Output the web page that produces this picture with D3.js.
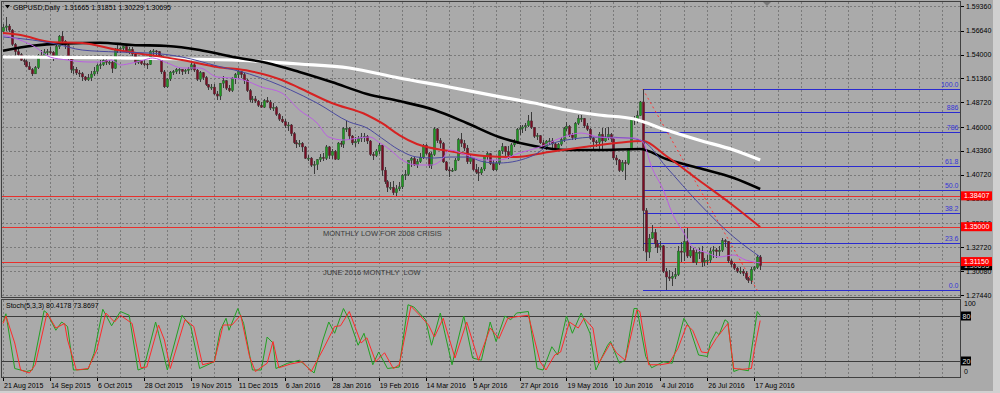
<!DOCTYPE html>
<html>
<head>
    <meta charset="utf-8">
    <title>GBPUSD Daily</title>
    <script src="https://d3js.org/d3.v7.min.js"></script>
    <style>
        body {
            margin: 0;
            background-color: #aaaaaa;
        }
        svg {
            display: block;
            font-family: "Liberation Sans", Arial, sans-serif;
        }
        .pre {
            white-space: pre;
        }
    </style>
</head>
<body>
    <svg id="chart" width="1000" height="393"></svg>
    <script>
        // daily candles: date, open, high, low, close
        const candles = [
            ["2015-08-21",1.5655,1.5737,1.5640,1.5700],
            ["2015-08-24",1.5700,1.5819,1.5655,1.5715],["2015-08-25",1.5715,1.5740,1.5650,1.5670],["2015-08-26",1.5670,1.5680,1.5490,1.5512],["2015-08-27",1.5512,1.5530,1.5385,1.5432],["2015-08-28",1.5432,1.5460,1.5370,1.5398],
            ["2015-08-31",1.5398,1.5420,1.5330,1.5336],["2015-09-01",1.5336,1.5375,1.5283,1.5323],["2015-09-02",1.5323,1.5335,1.5260,1.5266],["2015-09-03",1.5266,1.5314,1.5230,1.5234],["2015-09-04",1.5234,1.5250,1.5165,1.5187],
            ["2015-09-07",1.5187,1.5270,1.5180,1.5255],["2015-09-08",1.5255,1.5410,1.5240,1.5393],["2015-09-09",1.5393,1.5450,1.5360,1.5378],["2015-09-10",1.5378,1.5460,1.5360,1.5429],["2015-09-11",1.5429,1.5460,1.5400,1.5431],
            ["2015-09-14",1.5431,1.5480,1.5410,1.5425],["2015-09-15",1.5425,1.5440,1.5330,1.5367],["2015-09-16",1.5367,1.5510,1.5355,1.5488],["2015-09-17",1.5488,1.5620,1.5460,1.5603],["2015-09-18",1.5603,1.5659,1.5520,1.5545],
            ["2015-09-21",1.5545,1.5560,1.5460,1.5502],["2015-09-22",1.5502,1.5515,1.5340,1.5370],["2015-09-23",1.5370,1.5380,1.5200,1.5235],["2015-09-24",1.5235,1.5275,1.5180,1.5238],["2015-09-25",1.5238,1.5265,1.5175,1.5197],
            ["2015-09-28",1.5197,1.5230,1.5150,1.5188],["2015-09-29",1.5188,1.5205,1.5110,1.5153],["2015-09-30",1.5153,1.5160,1.5107,1.5122],["2015-10-01",1.5122,1.5190,1.5110,1.5144],["2015-10-02",1.5144,1.5220,1.5110,1.5185],
            ["2015-10-05",1.5185,1.5260,1.5160,1.5214],["2015-10-06",1.5214,1.5300,1.5190,1.5280],["2015-10-07",1.5280,1.5340,1.5240,1.5288],["2015-10-08",1.5288,1.5385,1.5270,1.5337],["2015-10-09",1.5337,1.5350,1.5290,1.5315],
            ["2015-10-12",1.5315,1.5340,1.5280,1.5316],["2015-10-13",1.5316,1.5325,1.5200,1.5248],["2015-10-14",1.5248,1.5470,1.5240,1.5462],["2015-10-15",1.5462,1.5508,1.5420,1.5458],["2015-10-16",1.5458,1.5480,1.5415,1.5469],
            ["2015-10-19",1.5469,1.5500,1.5440,1.5490],["2015-10-20",1.5490,1.5500,1.5420,1.5433],["2015-10-21",1.5433,1.5480,1.5410,1.5458],["2015-10-22",1.5458,1.5480,1.5380,1.5406],["2015-10-23",1.5406,1.5420,1.5290,1.5314],
            ["2015-10-26",1.5314,1.5360,1.5300,1.5347],["2015-10-27",1.5347,1.5360,1.5280,1.5300],["2015-10-28",1.5300,1.5340,1.5270,1.5296],["2015-10-29",1.5296,1.5310,1.5240,1.5289],["2015-10-30",1.5289,1.5445,1.5280,1.5434],
            ["2015-11-02",1.5434,1.5460,1.5390,1.5440],["2015-11-03",1.5440,1.5450,1.5380,1.5433],["2015-11-04",1.5433,1.5440,1.5340,1.5374],["2015-11-05",1.5374,1.5390,1.5190,1.5209],["2015-11-06",1.5209,1.5230,1.5027,1.5044],
            ["2015-11-09",1.5044,1.5140,1.5030,1.5130],["2015-11-10",1.5130,1.5220,1.5110,1.5206],["2015-11-11",1.5206,1.5230,1.5170,1.5210],["2015-11-12",1.5210,1.5250,1.5180,1.5233],["2015-11-13",1.5233,1.5250,1.5190,1.5237],
            ["2015-11-16",1.5237,1.5240,1.5170,1.5212],["2015-11-17",1.5212,1.5240,1.5180,1.5224],["2015-11-18",1.5224,1.5260,1.5190,1.5240],["2015-11-19",1.5240,1.5335,1.5230,1.5287],["2015-11-20",1.5287,1.5310,1.5210,1.5229],
            ["2015-11-23",1.5229,1.5240,1.5110,1.5126],["2015-11-24",1.5126,1.5215,1.5100,1.5200],["2015-11-25",1.5200,1.5210,1.5120,1.5146],["2015-11-26",1.5146,1.5160,1.5050,1.5068],["2015-11-27",1.5068,1.5080,1.5010,1.5040],
            ["2015-11-30",1.5040,1.5070,1.5010,1.5041],["2015-12-01",1.5041,1.5070,1.4950,1.4965],["2015-12-02",1.4965,1.5000,1.4900,1.4942],["2015-12-03",1.4942,1.5090,1.4895,1.5083],["2015-12-04",1.5083,1.5160,1.5030,1.5111],
            ["2015-12-07",1.5111,1.5120,1.5010,1.5029],["2015-12-08",1.5029,1.5060,1.4990,1.5002],["2015-12-09",1.5002,1.5150,1.4985,1.5140],["2015-12-10",1.5140,1.5200,1.5080,1.5177],["2015-12-11",1.5177,1.5242,1.5140,1.5214],
            ["2015-12-14",1.5214,1.5220,1.5140,1.5179],["2015-12-15",1.5179,1.5200,1.5070,1.5118],["2015-12-16",1.5118,1.5130,1.4990,1.5002],["2015-12-17",1.5002,1.5020,1.4880,1.4901],["2015-12-18",1.4901,1.4940,1.4860,1.4911],
            ["2015-12-21",1.4911,1.4940,1.4865,1.4886],["2015-12-22",1.4886,1.4900,1.4820,1.4839],["2015-12-23",1.4839,1.4880,1.4805,1.4819],["2015-12-24",1.4819,1.4910,1.4810,1.4891],
            ["2015-12-28",1.4891,1.4930,1.4870,1.4877],["2015-12-29",1.4877,1.4900,1.4790,1.4810],["2015-12-30",1.4810,1.4860,1.4780,1.4816],["2015-12-31",1.4816,1.4830,1.4720,1.4739],
            ["2016-01-04",1.4739,1.4760,1.4670,1.4687],["2016-01-05",1.4687,1.4720,1.4640,1.4658],["2016-01-06",1.4658,1.4690,1.4590,1.4616],["2016-01-07",1.4616,1.4660,1.4560,1.4623],["2016-01-08",1.4623,1.4630,1.4500,1.4527],
            ["2016-01-11",1.4527,1.4550,1.4410,1.4427],["2016-01-12",1.4427,1.4460,1.4370,1.4413],["2016-01-13",1.4413,1.4460,1.4380,1.4421],["2016-01-14",1.4421,1.4440,1.4330,1.4380],["2016-01-15",1.4380,1.4390,1.4245,1.4255],
            ["2016-01-18",1.4255,1.4290,1.4220,1.4257],["2016-01-19",1.4257,1.4270,1.4160,1.4178],["2016-01-20",1.4178,1.4220,1.4080,1.4186],["2016-01-21",1.4186,1.4250,1.4130,1.4241],["2016-01-22",1.4241,1.4300,1.4210,1.4264],
            ["2016-01-25",1.4264,1.4310,1.4220,1.4254],["2016-01-26",1.4254,1.4400,1.4240,1.4381],["2016-01-27",1.4381,1.4390,1.4250,1.4286],["2016-01-28",1.4286,1.4360,1.4250,1.4332],["2016-01-29",1.4332,1.4350,1.4240,1.4245],
            ["2016-02-01",1.4245,1.4440,1.4235,1.4423],["2016-02-02",1.4423,1.4450,1.4380,1.4411],["2016-02-03",1.4411,1.4600,1.4370,1.4584],["2016-02-04",1.4584,1.4668,1.4540,1.4585],["2016-02-05",1.4585,1.4600,1.4460,1.4501],
            ["2016-02-08",1.4501,1.4510,1.4400,1.4425],["2016-02-09",1.4425,1.4490,1.4380,1.4438],["2016-02-10",1.4438,1.4500,1.4410,1.4476],["2016-02-11",1.4476,1.4530,1.4440,1.4490],["2016-02-12",1.4490,1.4530,1.4430,1.4496],
            ["2016-02-15",1.4496,1.4510,1.4410,1.4446],["2016-02-16",1.4446,1.4460,1.4280,1.4297],["2016-02-17",1.4297,1.4330,1.4240,1.4284],["2016-02-18",1.4284,1.4360,1.4270,1.4336],["2016-02-19",1.4336,1.4430,1.4300,1.4400],
            ["2016-02-22",1.4400,1.4410,1.4060,1.4124],["2016-02-23",1.4124,1.4160,1.3970,1.3997],["2016-02-24",1.3997,1.4010,1.3880,1.3935],["2016-02-25",1.3935,1.3990,1.3900,1.3935],["2016-02-26",1.3935,1.4000,1.3850,1.3875],
            ["2016-02-29",1.3875,1.3960,1.3836,1.3918],["2016-03-01",1.3918,1.3990,1.3890,1.3940],["2016-03-02",1.3940,1.4080,1.3920,1.4068],["2016-03-03",1.4068,1.4130,1.4010,1.4077],["2016-03-04",1.4077,1.4240,1.4060,1.4233],
            ["2016-03-07",1.4233,1.4270,1.4160,1.4252],["2016-03-08",1.4252,1.4270,1.4170,1.4182],["2016-03-09",1.4182,1.4250,1.4150,1.4217],["2016-03-10",1.4217,1.4310,1.4200,1.4264],["2016-03-11",1.4264,1.4410,1.4250,1.4397],
            ["2016-03-14",1.4397,1.4410,1.4290,1.4307],["2016-03-15",1.4307,1.4320,1.4150,1.4176],["2016-03-16",1.4176,1.4320,1.4140,1.4296],["2016-03-17",1.4296,1.4600,1.4280,1.4580],["2016-03-18",1.4580,1.4590,1.4420,1.4450],
            ["2016-03-21",1.4450,1.4480,1.4370,1.4420],["2016-03-22",1.4420,1.4440,1.4200,1.4215],["2016-03-23",1.4215,1.4230,1.4110,1.4127],["2016-03-24",1.4127,1.4160,1.4051,1.4120],["2016-03-25",1.4120,1.4150,1.4100,1.4124],
            ["2016-03-28",1.4124,1.4260,1.4110,1.4235],["2016-03-29",1.4235,1.4480,1.4220,1.4460],["2016-03-30",1.4460,1.4530,1.4380,1.4420],["2016-03-31",1.4420,1.4460,1.4340,1.4368],["2016-04-01",1.4368,1.4400,1.4190,1.4217],
            ["2016-04-04",1.4217,1.4290,1.4190,1.4260],["2016-04-05",1.4260,1.4270,1.4110,1.4129],["2016-04-06",1.4129,1.4190,1.4080,1.4102],["2016-04-07",1.4102,1.4160,1.4005,1.4093],["2016-04-08",1.4093,1.4160,1.4070,1.4137],
            ["2016-04-11",1.4137,1.4290,1.4120,1.4277],["2016-04-12",1.4277,1.4320,1.4240,1.4305],["2016-04-13",1.4305,1.4310,1.4180,1.4195],["2016-04-14",1.4195,1.4240,1.4110,1.4128],["2016-04-15",1.4128,1.4230,1.4120,1.4203],
            ["2016-04-18",1.4203,1.4350,1.4180,1.4337],["2016-04-19",1.4337,1.4420,1.4300,1.4383],["2016-04-20",1.4383,1.4390,1.4270,1.4328],["2016-04-21",1.4328,1.4390,1.4250,1.4288],["2016-04-22",1.4288,1.4420,1.4270,1.4403],
            ["2016-04-25",1.4403,1.4470,1.4380,1.4424],["2016-04-26",1.4424,1.4590,1.4410,1.4573],["2016-04-27",1.4573,1.4620,1.4510,1.4585],["2016-04-28",1.4585,1.4620,1.4530,1.4601],["2016-04-29",1.4601,1.4640,1.4560,1.4614],
            ["2016-05-02",1.4614,1.4730,1.4600,1.4668],["2016-05-03",1.4668,1.4770,1.4580,1.4596],["2016-05-04",1.4596,1.4600,1.4480,1.4497],["2016-05-05",1.4497,1.4530,1.4460,1.4505],["2016-05-06",1.4505,1.4510,1.4410,1.4426],
            ["2016-05-09",1.4426,1.4460,1.4360,1.4374],["2016-05-10",1.4374,1.4460,1.4350,1.4445],["2016-05-11",1.4445,1.4480,1.4400,1.4447],["2016-05-12",1.4447,1.4480,1.4370,1.4414],["2016-05-13",1.4414,1.4440,1.4330,1.4366],
            ["2016-05-16",1.4366,1.4420,1.4340,1.4410],["2016-05-17",1.4410,1.4490,1.4390,1.4461],["2016-05-18",1.4461,1.4600,1.4430,1.4582],["2016-05-19",1.4582,1.4660,1.4560,1.4608],["2016-05-20",1.4608,1.4620,1.4490,1.4512],
            ["2016-05-23",1.4512,1.4530,1.4460,1.4482],["2016-05-24",1.4482,1.4660,1.4460,1.4640],["2016-05-25",1.4640,1.4733,1.4620,1.4696],["2016-05-26",1.4696,1.4730,1.4660,1.4696],["2016-05-27",1.4696,1.4700,1.4590,1.4613],
            ["2016-05-30",1.4613,1.4640,1.4560,1.4575],["2016-05-31",1.4575,1.4590,1.4460,1.4477],["2016-06-01",1.4477,1.4490,1.4350,1.4437],["2016-06-02",1.4437,1.4460,1.4380,1.4432],["2016-06-03",1.4432,1.4540,1.4350,1.4520],
            ["2016-06-06",1.4520,1.4590,1.4360,1.4446],["2016-06-07",1.4446,1.4590,1.4430,1.4489],["2016-06-08",1.4489,1.4600,1.4460,1.4517],["2016-06-09",1.4517,1.4530,1.4440,1.4469],["2016-06-10",1.4469,1.4480,1.4240,1.4259],
            ["2016-06-13",1.4259,1.4290,1.4180,1.4236],["2016-06-14",1.4236,1.4250,1.4100,1.4120],["2016-06-15",1.4120,1.4240,1.4100,1.4208],["2016-06-16",1.4208,1.4240,1.4013,1.4197],["2016-06-17",1.4197,1.4370,1.4180,1.4360],
            ["2016-06-20",1.4360,1.4710,1.4350,1.4685],["2016-06-21",1.4685,1.4720,1.4620,1.4686],["2016-06-22",1.4686,1.4780,1.4640,1.4726],["2016-06-23",1.4726,1.4890,1.4720,1.4877],["2016-06-24",1.4877,1.5018,1.3229,1.3677],
            ["2016-06-27",1.3677,1.3705,1.3122,1.3220],["2016-06-28",1.3220,1.3420,1.3160,1.3372],["2016-06-29",1.3372,1.3522,1.3360,1.3436],["2016-06-30",1.3436,1.3480,1.3260,1.3311],["2016-07-01",1.3311,1.3350,1.3210,1.3274],
            ["2016-07-04",1.3274,1.3340,1.3240,1.3289],["2016-07-05",1.3289,1.3300,1.2990,1.3005],["2016-07-06",1.3005,1.3040,1.2798,1.2945],["2016-07-07",1.2945,1.3020,1.2900,1.2931],["2016-07-08",1.2931,1.3000,1.2850,1.2951],
            ["2016-07-11",1.2951,1.3040,1.2920,1.2971],["2016-07-12",1.2971,1.3290,1.2960,1.3231],["2016-07-13",1.3231,1.3330,1.3110,1.3218],["2016-07-14",1.3218,1.3475,1.3120,1.3335],["2016-07-15",1.3335,1.3481,1.3160,1.3176],
            ["2016-07-18",1.3176,1.3290,1.3150,1.3239],["2016-07-19",1.3239,1.3260,1.3100,1.3105],["2016-07-20",1.3105,1.3250,1.3080,1.3214],["2016-07-21",1.3214,1.3260,1.3140,1.3217],["2016-07-22",1.3217,1.3290,1.3060,1.3111],
            ["2016-07-25",1.3111,1.3150,1.3070,1.3130],["2016-07-26",1.3130,1.3190,1.3080,1.3131],["2016-07-27",1.3131,1.3260,1.3100,1.3231],["2016-07-28",1.3231,1.3290,1.3160,1.3244],["2016-07-29",1.3244,1.3270,1.3160,1.3225],
            ["2016-08-01",1.3225,1.3290,1.3180,1.3240],["2016-08-02",1.3240,1.3372,1.3220,1.3345],["2016-08-03",1.3345,1.3360,1.3280,1.3335],["2016-08-04",1.3335,1.3340,1.3100,1.3123],["2016-08-05",1.3123,1.3140,1.3050,1.3086],
            ["2016-08-08",1.3086,1.3100,1.3020,1.3042],["2016-08-09",1.3042,1.3060,1.2990,1.3008],["2016-08-10",1.3008,1.3050,1.2980,1.3009],["2016-08-11",1.3009,1.3030,1.2960,1.2986],["2016-08-12",1.2986,1.3010,1.2910,1.2931],
            ["2016-08-15",1.2931,1.2940,1.2880,1.2906],["2016-08-16",1.2906,1.3050,1.2865,1.3028],["2016-08-17",1.3028,1.3070,1.3010,1.3048],["2016-08-18",1.3048,1.3185,1.3030,1.3165],["2016-08-19",1.31665,1.31851,1.30229,1.30695]
        ];

        const priceTicks = [1.59360, 1.56640, 1.54000, 1.51360, 1.48720, 1.46000, 1.43360, 1.40720, 1.38080, 1.35360, 1.32720, 1.30080, 1.27440];
        const dateTicks = ["2015-08-21", "2015-09-14", "2015-10-06", "2015-10-28", "2015-11-19", "2015-12-11", "2016-01-06", "2016-01-28",
            "2016-02-19", "2016-03-14", "2016-04-05", "2016-04-27", "2016-05-19", "2016-06-10", "2016-07-04", "2016-07-26", "2016-08-17"];

        // moving averages: [bar index, price]
        const maWhite = [[0,1.5373],[33,1.5367],[63,1.5351],[78,1.5340],[101,1.5296],[118,1.5252],[135,1.5141],[152,1.5042],[169,1.4936],[181,1.4865],[192,1.4788],[203,1.4733],[215,1.4689],[226,1.4567],[237,1.4457],[249,1.4347],[258,1.4236]];
        const maBlack = [[0,1.5443],[10,1.5498],[22,1.5524],[33,1.5531],[44,1.5506],[56,1.5495],[67,1.5450],[78,1.5376],[90,1.5307],[101,1.5208],[112,1.5097],[124,1.4965],[135,1.4887],[147,1.4788],[158,1.4645],[169,1.4490],[181,1.4391],[192,1.4347],[203,1.4347],[217,1.4358],[226,1.4247],[237,1.4148],[249,1.4038],[258,1.3916]];
        const maRed = [[0,1.5638],[6,1.5616],[16,1.5539],[27,1.5528],[39,1.5450],[50,1.5395],[61,1.5340],[73,1.5263],[84,1.5219],[95,1.5119],[101,1.5031],[112,1.4865],[124,1.4733],[129,1.4645],[135,1.4512],[141,1.4413],[152,1.4336],[164,1.4281],[175,1.4269],[186,1.4325],[198,1.4380],[209,1.4424],[218,1.4446],[226,1.4280],[237,1.4016],[249,1.3729],[258,1.3497]];
        const maBlue = [[0,1.5594],[10,1.5561],[18,1.5517],[27,1.5450],[39,1.5428],[50,1.5417],[61,1.5373],[73,1.5274],[84,1.5185],[98,1.5009],[107,1.4865],[118,1.4656],[124,1.4590],[129,1.4479],[135,1.4347],[141,1.4269],[147,1.4258],[152,1.4269],[158,1.4269],[164,1.4214],[169,1.4203],[181,1.4291],[186,1.4402],[192,1.4457],[203,1.4490],[213,1.4479],[218,1.4446],[226,1.4159],[237,1.3762],[249,1.3386],[258,1.3166]];
        const maPurple = [[0,1.5616],[11,1.5483],[16,1.5373],[22,1.5340],[29,1.5318],[33,1.5318],[37,1.5340],[40,1.5285],[44,1.5307],[48,1.5340],[51,1.5362],[56,1.5307],[61,1.5252],[67,1.5252],[73,1.5152],[78,1.5141],[82,1.5119],[88,1.5042],[95,1.4976],[101,1.4788],[107,1.4645],[111,1.4490],[116,1.4457],[121,1.4479],[125,1.4490],[128,1.4435],[132,1.4347],[136,1.4236],[141,1.4181],[146,1.4181],[150,1.4258],[152,1.4347],[158,1.4291],[164,1.4236],[169,1.4236],[176,1.4314],[183,1.4380],[190,1.4479],[197,1.4534],[203,1.4490],[209,1.4479],[215,1.4479],[218,1.4435],[221,1.4159],[225,1.3905],[228,1.3651],[232,1.3431],[235,1.3276],[240,1.3210],[244,1.3166],[249,1.3188],[253,1.3133],[258,1.3100]];

        // Stoch(5,3,3) main and signal: [bar index, value]
        const stochK = [[0,72],[1,83],[4,10],[8,6],[10,8],[14,87],[15,84],[18,61],[20,72],[22,66],[24,8],[29,9],[31,30],[34,89],[37,67],[40,86],[43,81],[46,8],[48,11],[52,72],[53,57],[56,8],[61,81],[64,66],[67,10],[72,19],[74,61],[76,77],[77,61],[80,90],[82,70],[85,8],[88,8],[90,52],[92,44],[93,10],[97,17],[101,21],[106,4],[109,48],[111,72],[113,57],[116,90],[118,75],[121,41],[123,57],[126,15],[128,32],[131,10],[135,12],[138,95],[140,92],[144,75],[146,41],[149,84],[153,15],[157,80],[160,24],[163,21],[166,72],[168,46],[171,80],[173,75],[175,84],[179,86],[182,10],[184,8],[187,39],[189,28],[192,80],[194,57],[197,84],[200,57],[202,8],[206,41],[207,46],[210,17],[212,21],[215,90],[216,90],[219,26],[221,11],[225,19],[228,17],[232,77],[234,64],[237,28],[240,26],[241,44],[243,59],[244,55],[246,75],[247,72],[249,6],[251,9],[254,7],[257,86],[258,80.4]];
        const stochD = [[0,70],[1,80],[4,44],[6,8],[9,4],[11,15],[15,84],[18,64],[21,70],[22,48],[25,8],[29,10],[32,35],[35,84],[38,72],[40,81],[44,70],[47,11],[49,12],[53,68],[55,48],[57,10],[62,75],[65,66],[68,15],[72,19],[75,68],[78,68],[81,81],[84,26],[86,6],[90,17],[92,46],[94,11],[98,16],[102,19],[105,6],[109,35],[113,66],[115,67],[118,86],[122,44],[124,51],[127,19],[130,31],[133,10],[135,15],[139,93],[142,81],[145,68],[147,52],[150,77],[154,24],[158,72],[162,21],[166,64],[169,50],[172,77],[175,79],[179,81],[183,19],[185,8],[188,28],[190,32],[193,72],[196,64],[198,77],[201,64],[203,17],[207,44],[209,31],[212,21],[216,88],[217,86],[220,15],[224,15],[227,17],[230,37],[233,68],[235,61],[238,32],[240,31],[243,50],[247,70],[249,10],[252,9],[255,10],[256,35],[258,73.9]];
        const stochLevels = [80, 20];

        const levels = [1.38407, 1.35000, 1.31150];
        const bidPrice = 1.30695;
        const fibPoints = [["2016-06-24", 1.5018], ["2016-08-18", 1.2798]];
        const fibRatios = [0, 0.236, 0.382, 0.5, 0.618, 0.786, 0.886, 1];
        const fibLabels = ["0.0", "23.6", "38.2", "50.0", "61.8", "786", "886", "100.0"];
        const notes = [["2016-01-25", 1.3392, "MONTHLY LOW FOR 2008 CRISIS"], ["2016-01-25", 1.2972, "JUNE 2016 MONTHLY  LOW"]];
        const header = "GBPUSD,Daily  1.31665 1.31851 1.30229 1.30695";
        const stochTitle = "Stoch(5,3,3) 80.4178 73.8697";

        const svg = d3.select("#chart");
        const mainBox = { left: 1.5, right: 960.5, top: 1.5, bottom: 297.5 };
        const subBox = { top: 299.5, bottom: 377.5 };

        const x = d3.scaleLinear().domain([0, candles.length - 1]).range([3, 760.2]);
        const y = d3.scaleLinear().domain([1.2744, 1.5936]).range([295.2, 6]);
        const ys = d3.scaleLinear().domain([0, 100]).range([376, 301]);
        const indexOf = new Map(candles.map((d, i) => [d[0], i]));
        const px = v => Math.round(v) + 0.5;
        const fmtDate = d3.timeFormat("%-d %b %Y");
        const parseDate = d3.timeParse("%Y-%m-%d");

        svg.append("rect").attr("width", 1000).attr("height", 393).attr("fill", "#aaaaaa");
        svg.append("rect").attr("x", 993).attr("width", 7).attr("height", 393).attr("fill", "#d0d0d0");
        svg.append("rect").attr("y", 391).attr("width", 1000).attr("height", 2).attr("fill", "#d0d0d0");

        svg.append("clipPath").attr("id", "mainClip")
            .append("rect")
            .attr("x", mainBox.left).attr("y", mainBox.top)
            .attr("width", mainBox.right - mainBox.left).attr("height", mainBox.bottom - mainBox.top);

        // grid
        const grid = svg.append("g")
            .attr("stroke", "#7a7a7a")
            .attr("stroke-dasharray", "2,2")
            .attr("shape-rendering", "crispEdges");
        const gridBars = d3.range(0, 400, 8).filter(i => x(i) < mainBox.right - 2);
        gridBars.forEach(i => {
            grid.append("line").attr("x1", px(x(i))).attr("x2", px(x(i)))
                .attr("y1", mainBox.top).attr("y2", mainBox.bottom);
            grid.append("line").attr("x1", px(x(i))).attr("x2", px(x(i)))
                .attr("y1", subBox.top).attr("y2", subBox.bottom);
        });
        priceTicks.forEach(t => {
            grid.append("line").attr("x1", mainBox.left).attr("x2", mainBox.right)
                .attr("y1", px(y(t))).attr("y2", px(y(t)));
        });

        // horizontal support lines
        const objects = svg.append("g").attr("shape-rendering", "crispEdges");
        objects.selectAll(".level")
            .data(levels)
            .enter()
            .append("line")
            .attr("x1", mainBox.left).attr("x2", mainBox.right)
            .attr("y1", d => px(y(d))).attr("y2", d => px(y(d)))
            .attr("stroke", "#e8302c");

        objects.append("line")
            .attr("x1", mainBox.left).attr("x2", mainBox.right)
            .attr("y1", px(y(bidPrice))).attr("y2", px(y(bidPrice)))
            .attr("stroke", "#8c8c8c");

        // fibonacci retracement
        const fibHigh = fibPoints[0][1];
        const fibLow = fibPoints[1][1];
        const fibStart = x(indexOf.get(fibPoints[0][0]));
        const fibPrice = r => fibLow + r * (fibHigh - fibLow);
        objects.selectAll(".fib")
            .data(fibRatios)
            .enter()
            .append("line")
            .attr("x1", fibStart).attr("x2", mainBox.right)
            .attr("y1", d => px(y(fibPrice(d)))).attr("y2", d => px(y(fibPrice(d))))
            .attr("stroke", "#2a2ad0");

        svg.append("line")
            .attr("x1", x(indexOf.get(fibPoints[0][0]))).attr("y1", y(fibPoints[0][1]))
            .attr("x2", x(indexOf.get(fibPoints[1][0]))).attr("y2", y(fibPoints[1][1]))
            .attr("stroke", "#ff3535")
            .attr("stroke-dasharray", "2,3");

        // candles
        const candleG = svg.append("g").attr("clip-path", "url(#mainClip)");
        const bars = candleG.selectAll(".candle")
            .data(candles)
            .enter()
            .append("g")
            .attr("class", "candle");
        bars.append("line")
            .attr("x1", (d, i) => px(x(i))).attr("x2", (d, i) => px(x(i)))
            .attr("y1", d => y(d[2])).attr("y2", d => y(d[3]))
            .attr("stroke", "#3a3a3a")
            .attr("shape-rendering", "crispEdges");
        bars.append("rect")
            .attr("x", (d, i) => px(x(i)) - 1.2)
            .attr("width", 2.4)
            .attr("y", d => y(Math.max(d[1], d[4])))
            .attr("height", d => Math.max(1, Math.abs(y(d[1]) - y(d[4]))))
            .attr("fill", d => d[4] >= d[1] ? "#1f9a22" : "#7c0c24")
            .attr("stroke", "#3a3a3a")
            .attr("stroke-width", 0.4);

        // moving averages
        const maLine = d3.line()
            .x(d => x(d[0]))
            .y(d => y(d[1]))
            .curve(d3.curveMonotoneX);
        const maG = svg.append("g").attr("clip-path", "url(#mainClip)").attr("fill", "none");
        [
            [maWhite, "#ffffff", 3.2],
            [maBlack, "#000000", 2.6],
            [maRed, "#d62222", 2],
            [maBlue, "#4a4a9e", 1],
            [maPurple, "#bb5fe2", 1]
        ].forEach(([data, color, w]) => {
            maG.append("path")
                .attr("d", maLine(data))
                .attr("stroke", color)
                .attr("stroke-width", w)
                .attr("stroke-linejoin", "round");
        });

        // text objects
        svg.selectAll(".note")
            .data(notes)
            .enter()
            .append("text")
            .attr("class", "pre")
            .attr("x", d => x(indexOf.get(d[0])))
            .attr("y", d => y(d[1]))
            .attr("font-size", 7.5)
            .attr("fill", "#3a3a3a")
            .text(d => d[2]);

        svg.selectAll(".fibLabel")
            .data(fibRatios)
            .enter()
            .append("text")
            .attr("x", mainBox.right - 2)
            .attr("y", d => y(fibPrice(d)) - 2)
            .attr("text-anchor", "end")
            .attr("font-size", 7)
            .attr("fill", "#3636d6")
            .text((d, i) => fibLabels[i]);

        // stochastic
        const stochLine = d3.line().x(d => x(d[0])).y(d => ys(d[1]));
        svg.append("g")
            .attr("shape-rendering", "crispEdges")
            .selectAll("line")
            .data(stochLevels)
            .enter()
            .append("line")
            .attr("x1", mainBox.left).attr("x2", mainBox.right)
            .attr("y1", d => px(ys(d))).attr("y2", d => px(ys(d)))
            .attr("stroke", "#3c3c3c");
        svg.append("path")
            .attr("d", stochLine(stochK))
            .attr("fill", "none")
            .attr("stroke", "#22a022");
        svg.append("path")
            .attr("d", stochLine(stochD))
            .attr("fill", "none")
            .attr("stroke", "#ff2a2a");

        // panel frames
        [[mainBox.top, mainBox.bottom], [subBox.top, subBox.bottom]].forEach(([t, b]) => {
            svg.append("rect")
                .attr("x", mainBox.left).attr("y", t)
                .attr("width", mainBox.right - mainBox.left).attr("height", b - t)
                .attr("fill", "none")
                .attr("stroke", "#404040")
                .attr("shape-rendering", "crispEdges");
        });

        // price axis
        const axisG = svg.append("g").attr("font-size", 7).attr("fill", "#000");
        priceTicks.forEach(t => {
            axisG.append("line")
                .attr("x1", mainBox.right).attr("x2", mainBox.right + 3)
                .attr("y1", px(y(t))).attr("y2", px(y(t)))
                .attr("stroke", "#000")
                .attr("shape-rendering", "crispEdges");
            axisG.append("text")
                .attr("x", 966)
                .attr("y", y(t) + 2.5)
                .text(t.toFixed(5));
        });

        const tag = (price, bg, fg) => {
            const yc = y(price);
            svg.append("rect")
                .attr("x", 961).attr("y", yc - 4.5)
                .attr("width", 31).attr("height", 9)
                .attr("fill", bg);
            svg.append("text")
                .attr("x", 964).attr("y", yc + 2.5)
                .attr("font-size", 7)
                .attr("fill", fg)
                .text(price.toFixed(5));
        };
        tag(bidPrice, "#000000", "#d8d8d8");
        levels.forEach(l => tag(l, "#ff0000", "#ffffff"));

        // stochastic scale
        [[100, ys(100) + 5], [0, ys(0) - 2]].forEach(([v, yy]) => {
            svg.append("text")
                .attr("x", 964).attr("y", yy)
                .attr("font-size", 7)
                .text(v);
        });
        stochLevels.forEach(v => {
            svg.append("rect")
                .attr("x", 961).attr("y", ys(v) - 4.5)
                .attr("width", 10).attr("height", 9)
                .attr("fill", "#000");
            svg.append("text")
                .attr("x", 962.5).attr("y", ys(v) + 2.5)
                .attr("font-size", 7)
                .attr("fill", "#e0e0e0")
                .text(v);
        });

        // date axis
        dateTicks.forEach(d => {
            const xi = x(indexOf.get(d));
            svg.append("line")
                .attr("x1", px(xi)).attr("x2", px(xi))
                .attr("y1", subBox.bottom).attr("y2", subBox.bottom + 3)
                .attr("stroke", "#000")
                .attr("shape-rendering", "crispEdges");
            svg.append("text")
                .attr("x", xi + 1)
                .attr("y", 388)
                .attr("font-size", 7)
                .attr("fill", "#000")
                .text(fmtDate(parseDate(d)));
        });

        // titles
        svg.append("path")
            .attr("d", "M5,5 L10,5 L7.5,8.5 Z")
            .attr("fill", "#000");
        svg.append("text")
            .attr("class", "pre")
            .attr("x", 13).attr("y", 9.5)
            .attr("font-size", 7)
            .attr("fill", "#000")
            .text(header);
        svg.append("text")
            .attr("x", 6).attr("y", 307.5)
            .attr("font-size", 7)
            .attr("fill", "#000")
            .text(stochTitle);

        // chart shift marker
        svg.append("path")
            .attr("d", "M763,2 L771,2 L767,6 Z")
            .attr("fill", "#7a7a7a");
    </script>
</body>
</html>
